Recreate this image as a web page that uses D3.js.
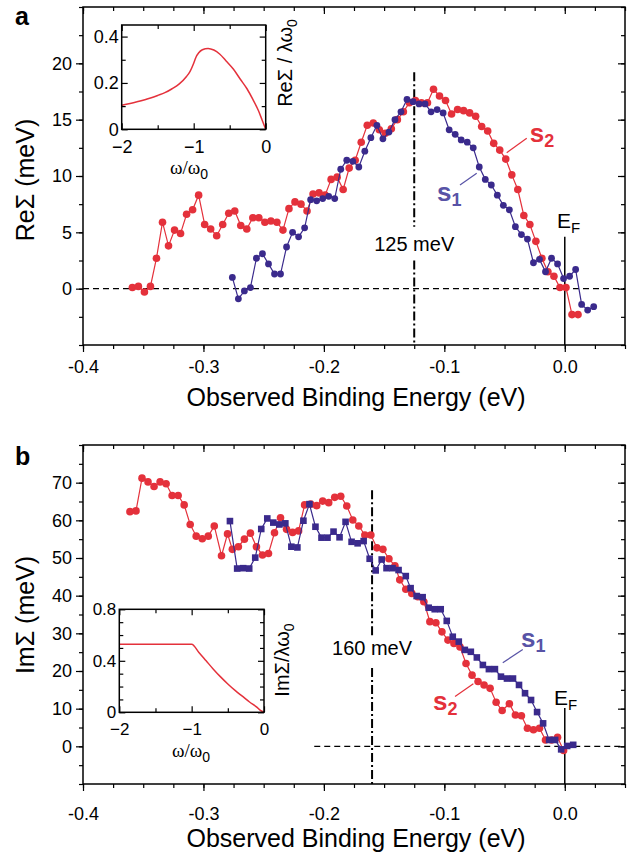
<!DOCTYPE html>
<html lang="en">
<head>
<meta charset="utf-8">
<title>Self-energy</title>
<style>
  body { margin: 0; background: #fff; }
  svg { display: block; font-family: "Liberation Sans", Arial, sans-serif; }
</style>
</head>
<body>
<svg id="chart"></svg>
<script src="https://cdnjs.cloudflare.com/ajax/libs/d3/7.8.5/d3.min.js"></script>
<script>
// ---- data ----
// panel a: Re Sigma (meV) against observed binding energy (eV)
var reS2E = [-0.359,-0.354,-0.349,-0.344,-0.339,-0.334,-0.329,-0.324,-0.319,-0.314,-0.309,-0.304,-0.299,-0.294,-0.289,-0.284,-0.279,-0.274,-0.269,-0.264,-0.259,-0.254,-0.249,-0.244,-0.239,-0.234,-0.229,-0.224,-0.219,-0.214,-0.209,-0.204,-0.199,-0.194,-0.189,-0.184,-0.179,-0.174,-0.169,-0.164,-0.159,-0.154,-0.149,-0.144,-0.139,-0.134,-0.129,-0.124,-0.119,-0.114,-0.109,-0.104,-0.099,-0.094,-0.089,-0.084,-0.079,-0.074,-0.069,-0.064,-0.059,-0.054,-0.049,-0.044,-0.039,-0.034,-0.029,-0.024,-0.019,-0.014,-0.009,-0.004,0.001,0.006,0.011];
var reS2V = [0.1,0.2,-0.3,0.2,2.7,5.9,3.8,5.2,4.9,6.6,7.0,8.3,5.7,5.3,4.7,5.7,6.7,6.9,5.6,5.3,6.3,6.3,5.9,6.0,5.9,5.2,7.1,7.7,7.5,6.9,8.4,8.5,8.3,9.7,9.9,8.8,10.7,11.4,13.0,14.5,14.7,14.1,13.8,14.2,15.0,15.7,16.5,16.7,16.5,16.5,17.7,17.1,16.7,15.5,15.9,15.8,15.6,15.3,14.4,14.0,12.9,12.3,11.5,10.1,8.8,6.5,5.7,4.2,2.7,1.5,1.1,0.1,0.1,-2.3,-2.3];
var reS1E = [-0.276,-0.271,-0.266,-0.261,-0.256,-0.251,-0.246,-0.241,-0.236,-0.231,-0.226,-0.221,-0.216,-0.211,-0.206,-0.201,-0.196,-0.191,-0.186,-0.181,-0.176,-0.171,-0.166,-0.161,-0.156,-0.151,-0.146,-0.141,-0.136,-0.131,-0.126,-0.121,-0.116,-0.111,-0.106,-0.101,-0.096,-0.091,-0.086,-0.081,-0.076,-0.071,-0.066,-0.061,-0.056,-0.051,-0.046,-0.041,-0.036,-0.031,-0.026,-0.021,-0.016,-0.011,-0.006,-0.001,0.004,0.009,0.014,0.019,0.024];
var reS1V = [1.0,-0.9,-0.2,0.1,2.7,3.1,2.2,1.3,1.3,3.7,5.0,4.6,5.4,7.9,7.8,8.0,8.2,8.0,10.6,11.4,11.3,10.8,12.2,13.4,14.5,13.3,13.9,15.0,15.7,16.8,16.6,16.4,16.4,15.7,15.9,15.6,14.1,13.7,13.2,13.0,12.5,10.8,9.7,9.2,8.3,7.4,7.0,5.5,4.8,4.4,2.3,2.6,1.5,2.7,2.2,0.9,1.1,1.7,-1.4,-1.9,-1.6];

// panel b: Im Sigma (meV)
var imS2E = [-0.361,-0.356,-0.351,-0.346,-0.341,-0.336,-0.331,-0.326,-0.321,-0.316,-0.311,-0.306,-0.301,-0.296,-0.291,-0.285,-0.280,-0.276,-0.271,-0.266,-0.261,-0.256,-0.251,-0.246,-0.241,-0.236,-0.231,-0.226,-0.221,-0.216,-0.211,-0.206,-0.201,-0.196,-0.191,-0.186,-0.181,-0.176,-0.171,-0.166,-0.161,-0.156,-0.151,-0.146,-0.141,-0.137,-0.132,-0.127,-0.122,-0.117,-0.112,-0.107,-0.102,-0.097,-0.092,-0.087,-0.082,-0.077,-0.072,-0.067,-0.062,-0.057,-0.052,-0.046,-0.041,-0.036,-0.031,-0.026,-0.021,-0.016,-0.011,-0.006,-0.001];
var imS2V = [62.3,62.5,71.2,70.2,69.0,70.2,69.7,66.6,66.6,64.1,58.9,55.8,55.1,55.8,58.5,50.6,56.4,52.3,53.0,55.0,56.6,53.0,50.8,51.2,56.7,60.7,57.6,56.8,57.2,64.1,64.3,63.9,65.1,64.7,66.1,66.4,63.8,60.1,58.5,56.1,56.1,52.7,52.3,49.8,47.9,44.2,41.7,40.6,39.7,38.4,33.1,32.8,30.4,28.2,27.3,26.4,22.0,18.9,17.2,16.3,15.4,11.7,9.5,11.3,8.3,8.1,4.8,4.4,4.8,1.7,1.7,2.4,-1.1];
var imS1E = [-0.278,-0.272,-0.267,-0.262,-0.257,-0.252,-0.247,-0.242,-0.237,-0.232,-0.227,-0.222,-0.217,-0.212,-0.207,-0.202,-0.197,-0.192,-0.187,-0.182,-0.177,-0.172,-0.167,-0.162,-0.157,-0.152,-0.148,-0.143,-0.138,-0.132,-0.128,-0.123,-0.118,-0.113,-0.108,-0.103,-0.098,-0.093,-0.088,-0.083,-0.078,-0.073,-0.068,-0.063,-0.058,-0.053,-0.048,-0.043,-0.038,-0.033,-0.028,-0.023,-0.018,-0.013,-0.008,-0.003,0.002,0.007];
var imS1V = [59.8,47.2,47.3,47.2,50.1,57.7,60.5,59.4,58.9,59.2,53.0,52.8,59.9,64.3,58.3,55.4,55.4,57.0,55.5,59.6,54.3,53.9,54.5,49.8,46.7,49.6,47.3,47.3,46.8,45.2,42.0,39.9,39.6,36.8,36.4,36.4,33.3,29.1,27.8,25.6,25.1,23.6,21.6,20.5,20.5,18.5,18.0,18.0,16.3,14.1,12.3,9.1,6.1,1.7,1.7,-0.8,0.1,0.4];

// insets: model curves vs omega/omega0
var insAW = [-2.0,-1.8,-1.6,-1.5,-1.4,-1.3,-1.2,-1.1,-1.05,-1.0,-0.97,-0.93,-0.88,-0.8,-0.72,-0.64,-0.55,-0.45,-0.35,-0.26,-0.18,-0.1,-0.05,0];
var insAV = [0.104,0.118,0.135,0.146,0.158,0.175,0.196,0.228,0.25,0.285,0.31,0.33,0.343,0.349,0.342,0.325,0.295,0.26,0.215,0.175,0.13,0.08,0.04,0];
var insBW = [-2.0,-1.0,-0.9,-0.8,-0.7,-0.6,-0.5,-0.4,-0.3,-0.2,-0.1,-0.05,0];
var insBV = [0.528,0.528,0.465,0.40,0.335,0.275,0.22,0.17,0.125,0.08,0.04,0.015,0];

// tick labels
var eTicks = [-0.4,-0.3,-0.2,-0.1,0.0];
var reTicks = [0,5,10,15,20];
var imTicks = [0,10,20,30,40,50,60,70];
var wTicks = [-2,-1,0];
var insATicks = [0,0.2,0.4];
var insBTicks = [0,0.4,0.8];

// ---- drawing ----
var red = '#e4313b', blue = '#3a2a8c', blueText = '#5853a6';
var svg = d3.select('#chart').attr('width', 632).attr('height', 856);

function axes(g, x, y, o) {
  var b = y.range()[0], t = y.range()[1], l = x.range()[0], r = x.range()[1];
  var s = o.inside ? -1 : 1;
  function put(ax, tr) {
    var a = g.append('g').attr('transform', tr).call(ax);
    a.attr('font-size', null).attr('font-family', null);
    a.select('.domain').remove();
    a.selectAll('line').attr('stroke', '#000').attr('stroke-width', 1.2);
    a.selectAll('text').attr('fill', '#000').style('font-size', o.font + 'px');
    return a;
  }
  var noLab = function() { return ''; };
  put(d3.axisBottom(x).tickValues(o.xMinor).tickSize(s * o.minor).tickFormat(noLab), 'translate(0,' + b + ')');
  put(d3.axisBottom(x).tickValues(o.xMajor).tickSize(s * o.major).tickPadding(o.xPad).tickFormat(o.xFmt), 'translate(0,' + b + ')');
  put(d3.axisLeft(y).tickValues(o.yMinor).tickSize(s * o.minor).tickFormat(noLab), 'translate(' + l + ',0)');
  put(d3.axisLeft(y).tickValues(o.yMajor).tickSize(s * o.major).tickPadding(o.yPad).tickFormat(o.yFmt), 'translate(' + l + ',0)');
  // top and right: ticks point inward
  put(d3.axisTop(x).tickValues(o.xMinor).tickSize(-o.minor).tickFormat(noLab), 'translate(0,' + t + ')');
  put(d3.axisTop(x).tickValues(o.xMajor).tickSize(-o.major).tickFormat(noLab), 'translate(0,' + t + ')');
  put(d3.axisRight(y).tickValues(o.yMinor).tickSize(-o.minor).tickFormat(noLab), 'translate(' + r + ',0)');
  put(d3.axisRight(y).tickValues(o.yMajor).tickSize(-o.major).tickFormat(noLab), 'translate(' + r + ',0)');
  g.append('rect').attr('x', l).attr('y', t).attr('width', r - l).attr('height', b - t)
    .attr('fill', 'none').attr('stroke', '#000').attr('stroke-width', 1.5);
}

function series(g, x, y, es, vs, color, shape, size) {
  var pts = d3.zip(es, vs);
  var line = d3.line().x(function(d) { return x(d[0]); }).y(function(d) { return y(d[1]); });
  g.append('path').datum(pts).attr('d', line).attr('fill', 'none')
    .attr('stroke', color).attr('stroke-width', 1.2);
  if (shape == 'square') {
    g.selectAll(null).data(pts).enter().append('rect')
      .attr('x', function(d) { return x(d[0]) - size / 2; })
      .attr('y', function(d) { return y(d[1]) - size / 2; })
      .attr('width', size).attr('height', size).attr('fill', color);
  } else {
    g.selectAll(null).data(pts).enter().append('circle')
      .attr('cx', function(d) { return x(d[0]); })
      .attr('cy', function(d) { return y(d[1]); })
      .attr('r', size).attr('fill', color);
  }
}

function subLabel(g, px, py, main, sub, o) {
  var t = g.append('text').attr('x', px).attr('y', py)
    .attr('fill', o.color || '#000').style('font-size', o.size + 'px')
    .style('font-weight', o.bold ? 'bold' : 'normal');
  t.append('tspan').text(main);
  t.append('tspan').attr('dy', o.dy).style('font-size', o.sub + 'px').text(sub);
  return t;
}

function vline(g, x, y, e, v0, v1, dash, w) {
  g.append('line').attr('x1', x(e)).attr('x2', x(e)).attr('y1', y(v0)).attr('y2', y(v1))
    .attr('stroke', '#000').attr('stroke-width', w).attr('stroke-dasharray', dash);
}
function hline(g, x, y, v, e0, e1) {
  g.append('line').attr('x1', x(e0)).attr('x2', x(e1)).attr('y1', y(v)).attr('y2', y(v))
    .attr('stroke', '#000').attr('stroke-width', 1.3).attr('stroke-dasharray', '6,4');
}

function omegaLabel(g, px, py) {
  var t = g.append('text').attr('x', px).attr('y', py).attr('text-anchor', 'middle')
    .style('font-size', '19px').style('font-family', '"Liberation Serif", serif');
  t.append('tspan').text('\u03c9/\u03c9');
  t.append('tspan').attr('dy', 5).style('font-size', '14px')
    .style('font-family', '"Liberation Sans", Arial, sans-serif').text('0');
}
function insetYLabel(g, px, py, txt) {
  var t = g.append('text').attr('transform', 'translate(' + px + ',' + py + ') rotate(-90)')
    .attr('text-anchor', 'middle').style('font-size', '20px');
  t.append('tspan').text(txt);
  t.append('tspan').attr('dy', 5).style('font-size', '14px').text('0');
}

var x = d3.scaleLinear().domain([-0.4, 0.05]).range([83, 625]);
var eMinor = d3.range(-0.4, 0.0501, 0.025);
var fmtE = function(d) { return d.toFixed(1); };

// ---------- panel a ----------
var ga = svg.append('g');
var ya = d3.scaleLinear().domain([-5, 25]).range([345, 7]);

hline(ga, x, ya, 0, -0.4, 0.05);
vline(ga, x, ya, -0.125, 19.2, 5.5, '9,3,2,3', 2);
vline(ga, x, ya, -0.125, 2.5, -5, '9,3,2,3', 2);
vline(ga, x, ya, 0, 4.6, -5, null, 1.5);

series(ga, x, ya, reS2E, reS2V, red, 'circle', 3.8);
series(ga, x, ya, reS1E, reS1V, blue, 'circle', 3.4);

axes(ga, x, ya, {
  xMajor: eTicks, xMinor: eMinor, yMajor: reTicks, yMinor: d3.range(-5, 25.01, 2.5),
  xFmt: fmtE, yFmt: d3.format('d'), major: 7, minor: 4, xPad: 8, yPad: 4, font: 18
});

ga.append('text').attr('x', x(-0.125)).attr('y', ya(3.35)).attr('text-anchor', 'middle')
  .style('font-size', '20px').text('125 meV');
subLabel(ga, x(-0.0064), ya(5.4), 'E', 'F', { size: 21, sub: 15, dy: 5 });
subLabel(ga, x(-0.029), ya(13.0), 's', '2', { size: 26, sub: 18, dy: 5, bold: true, color: red });
subLabel(ga, x(-0.106), ya(7.8), 's', '1', { size: 26, sub: 18, dy: 5, bold: true, color: blueText });
ga.append('line').attr('x1', x(-0.0482)).attr('y1', ya(12.07)).attr('x2', x(-0.0316)).attr('y2', ya(13.35))
  .attr('stroke', red).attr('stroke-width', 1.2);
ga.append('line').attr('x1', x(-0.087)).attr('y1', ya(9.2)).attr('x2', x(-0.0731)).attr('y2', ya(10.24))
  .attr('stroke', blueText).attr('stroke-width', 1.2);

ga.append('text').attr('x', 15).attr('y', 25).style('font-size', '25px').style('font-weight', 'bold').text('a');
ga.append('text').attr('transform', 'translate(34,180) rotate(-90)').attr('text-anchor', 'middle')
  .style('font-size', '25px').text('Re\u03a3 (meV)');
ga.append('text').attr('x', 356).attr('y', 406).attr('text-anchor', 'middle')
  .style('font-size', '25px').text('Observed Binding Energy (eV)');

// inset a
var gia = svg.append('g');
var xia = d3.scaleLinear().domain([-2, 0]).range([121.7, 265.7]);
var yia = d3.scaleLinear().domain([0, 0.45]).range([129.3, 25]);
gia.append('path').datum(d3.zip(insAW, insAV))
  .attr('d', d3.line().curve(d3.curveMonotoneX).x(function(d) { return xia(d[0]); }).y(function(d) { return yia(d[1]); }))
  .attr('fill', 'none').attr('stroke', red).attr('stroke-width', 1.5);
axes(gia, xia, yia, {
  xMajor: wTicks, xMinor: [-1.5, -0.5], yMajor: insATicks, yMinor: [0.1, 0.3],
  xFmt: d3.format('d'), yFmt: function(d) { return d == 0 ? '0' : d.toFixed(1); },
  major: 6, minor: 4, xPad: 11, yPad: 3, font: 18, inside: true
});
omegaLabel(gia, 189, 174);
insetYLabel(gia, 292, 63, 'Re\u03a3 / \u03bb\u03c9');

// ---------- panel b ----------
var gb = svg.append('g');
var yb = d3.scaleLinear().domain([-10, 80]).range([784, 445]);

hline(gb, x, yb, 0, -0.208, 0.05);
vline(gb, x, yb, -0.16, 68, 28.8, '9,3,2,3', 2);
vline(gb, x, yb, -0.16, 20.8, -10, '9,3,2,3', 2);
vline(gb, x, yb, 0, 10.2, -10, null, 1.5);

series(gb, x, yb, imS2E, imS2V, red, 'circle', 3.8);
series(gb, x, yb, imS1E, imS1V, blue, 'square', 6.6);

axes(gb, x, yb, {
  xMajor: eTicks, xMinor: eMinor, yMajor: imTicks, yMinor: d3.range(-10, 80.01, 5),
  xFmt: fmtE, yFmt: d3.format('d'), major: 7, minor: 4, xPad: 16, yPad: 4, font: 18
});

gb.append('text').attr('x', x(-0.16)).attr('y', yb(24.3)).attr('text-anchor', 'middle')
  .style('font-size', '20px').text('160 meV');
subLabel(gb, x(-0.009), yb(11.0), 'E', 'F', { size: 21, sub: 15, dy: 5 });
subLabel(gb, x(-0.0363), yb(26.4), 's', '1', { size: 26, sub: 18, dy: 5, bold: true, color: blueText });
subLabel(gb, x(-0.1094), yb(9.65), 's', '2', { size: 26, sub: 18, dy: 5, bold: true, color: red });
gb.append('line').attr('x1', x(-0.0515)).attr('y1', yb(22.2)).attr('x2', x(-0.0349)).attr('y2', yb(25.7))
  .attr('stroke', blueText).attr('stroke-width', 1.2);
gb.append('line').attr('x1', x(-0.0911)).attr('y1', yb(13.2)).attr('x2', x(-0.0759)).attr('y2', yb(16.6))
  .attr('stroke', red).attr('stroke-width', 1.2);

gb.append('text').attr('x', 15).attr('y', 465).style('font-size', '25px').style('font-weight', 'bold').text('b');
gb.append('text').attr('transform', 'translate(34,615) rotate(-90)').attr('text-anchor', 'middle')
  .style('font-size', '25px').text('Im\u03a3 (meV)');
gb.append('text').attr('x', 356).attr('y', 847).attr('text-anchor', 'middle')
  .style('font-size', '25px').text('Observed Binding Energy (eV)');

// inset b
var gib = svg.append('g');
var xib = d3.scaleLinear().domain([-2, 0]).range([119.3, 264]);
var yib = d3.scaleLinear().domain([0, 0.8]).range([712.3, 609.3]);
gib.append('path').datum(d3.zip(insBW, insBV))
  .attr('d', d3.line().curve(d3.curveMonotoneX).x(function(d) { return xib(d[0]); }).y(function(d) { return yib(d[1]); }))
  .attr('fill', 'none').attr('stroke', red).attr('stroke-width', 1.5);
axes(gib, xib, yib, {
  xMajor: wTicks, xMinor: [-1.5, -0.5], yMajor: insBTicks, yMinor: [0.1, 0.2, 0.3, 0.5, 0.6, 0.7],
  xFmt: d3.format('d'), yFmt: function(d) { return d == 0 ? '0' : d.toFixed(1); },
  major: 6, minor: 4, xPad: 11, yPad: 3, font: 17, inside: true
});
omegaLabel(gib, 191, 757);
insetYLabel(gib, 289, 660, 'Im\u03a3/\u03bb\u03c9');
</script>
</body>
</html>
